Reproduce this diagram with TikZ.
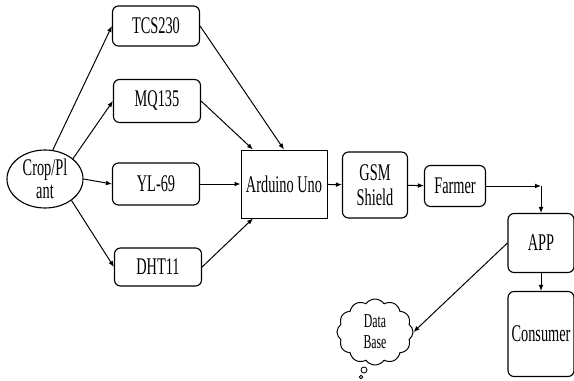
\documentclass[tikz,border=0pt]{standalone}
\usepackage{fontspec}
\setmainfont{Liberation Serif}[FakeStretch=0.6]
\usetikzlibrary{shapes.geometric,shapes.symbols,arrows.meta}
\tikzstyle{Block}=[draw,rounded corners=1.5mm,line width=0.8pt,inner sep=0pt,
minimum width=21.75mm,minimum height=10mm,align=center,font=\fontsize{17}{18}\selectfont]
\tikzstyle{Plant}=[draw,ellipse,line width=0.8pt,inner sep=0pt,minimum width=19mm,
minimum height=14.5mm,align=center,font=\fontsize{17}{16}\selectfont]
\tikzstyle{Store}=[draw,cloud,cloud puffs=12,cloud puff arc=110,aspect=1.1,line width=0.7pt,
inner sep=0pt,minimum width=19mm,minimum height=16.5mm,align=center,font=\fontsize{14}{15}\selectfont]
\tikzstyle{Arrow}=[line width=0.7pt,-{Latex[length=1.5mm,width=1.2mm]}]

\begin{document}
\begin{tikzpicture}[x=0.25mm,y=-0.25mm]
        \useasboundingbox(0,0)rectangle(574,381);
        \node[Plant](crop)at(45,179){Crop/Pl\\ant};
        \node[Block](tcs)at(156,26){TCS230};
        \node[Block,minimum height=10.75mm](mq)at(157,101){MQ135};
        \node[Block,minimum height=10.5mm](yl)at(156,184){YL-69};
        \node[Block,minimum height=9.5mm](dht)at(158,267){DHT11};
        \node[Block,sharp corners,line width=0.7pt,minimum width=21.5mm,minimum height=17mm](ardu)at(284,184){Arduino Uno};
        \node[Block,minimum width=16.25mm,minimum height=16.5mm](gsm)at(375,185){GSM\\Shield};
        \node[Block,minimum width=15.25mm,minimum height=10.25mm](farmer)at(455,186){Farmer};
        \coordinate(bend)at(541,186);
        \node[Block,minimum width=16.5mm,minimum height=14.75mm](app)at(541,243){APP};
        \node[Block,minimum width=16.5mm,minimum height=21.25mm](cons)at(541,334){Consumer};
        \node[Store](db)at(375,332){Data\\Base};
        \draw[line width=0.6pt](364,370)circle[radius=0.75mm];
        \draw[line width=0.6pt](361,377)circle[radius=0.45mm];
        \draw[Arrow](crop.75)--(tcs.west);
        \draw[Arrow](crop.36)--(mq.west);
        \draw[Arrow](crop.east)--(yl.west);
        \draw[Arrow](crop.-39)--(dht.west);
        \draw[Arrow](tcs.east)--(ardu.north);
        \draw[Arrow](mq.east)--(ardu.132);
        \draw[Arrow](yl.east)--(ardu.west);
        \draw[Arrow](dht.east)--(ardu.228);
        \draw[Arrow](ardu)--(gsm);
        \draw[Arrow](gsm)--(farmer);
        \draw[Arrow](farmer)--(bend);
        \draw[Arrow](bend)--(app);
        \draw[Arrow](app)--(cons);
        \draw[Arrow,{Latex[length=1.5mm,width=1.2mm]}-](db.east)--(app.west);
    \end{tikzpicture}
\end{document}
